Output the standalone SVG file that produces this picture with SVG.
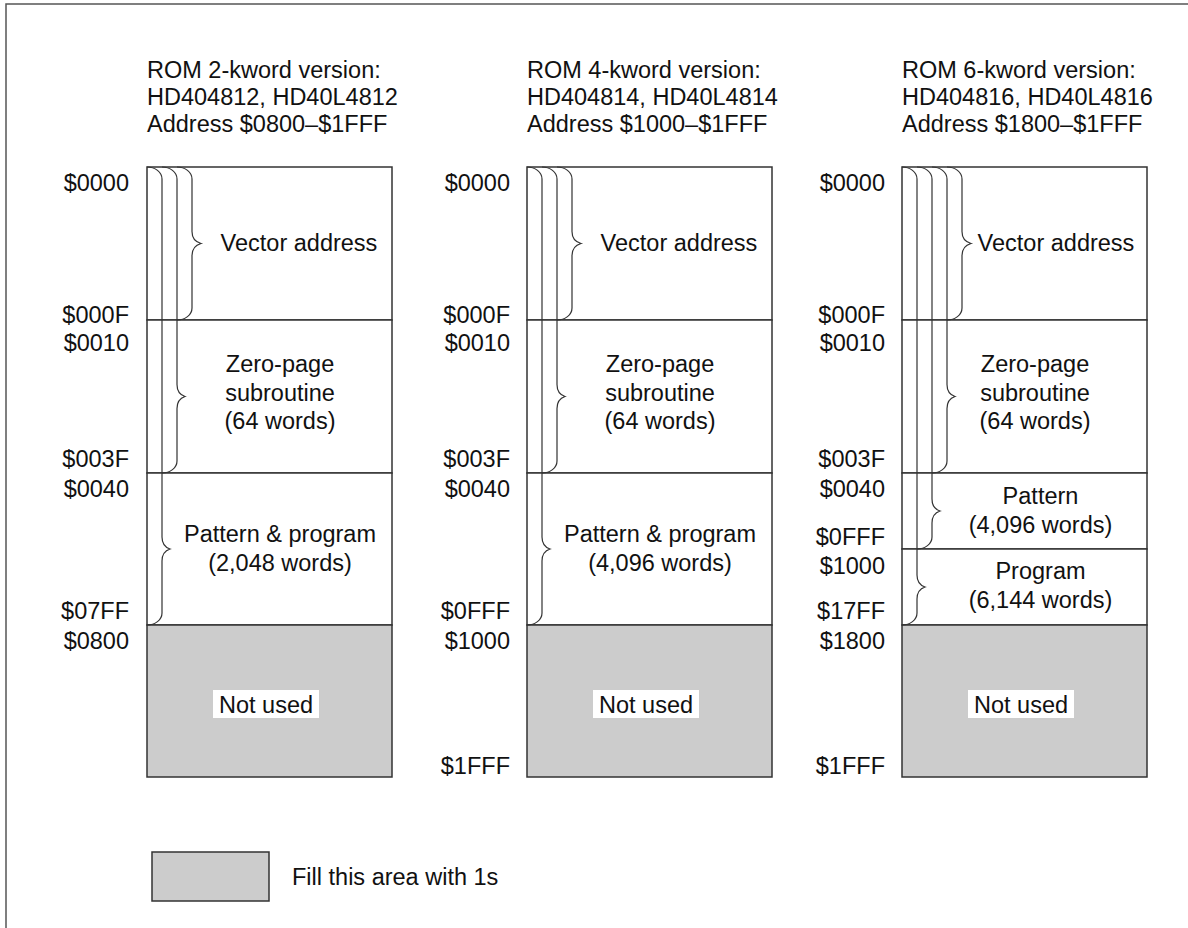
<svg xmlns="http://www.w3.org/2000/svg" width="1188" height="928" viewBox="0 0 1188 928">
<style>
.t{font-family:"Liberation Sans",Arial,Helvetica,sans-serif;font-size:23.5px;fill:#111}
.m{text-anchor:middle}
.r{text-anchor:end}
.box{fill:#fff;stroke:#333;stroke-width:1.5}
.gray{fill:#ccc;stroke:#333;stroke-width:1.5}
.bg{fill:#fff;stroke:none}
.br{fill:none;stroke:#333;stroke-width:1.2}
.frame{fill:none;stroke:#555;stroke-width:1.5}
</style>
<rect width="1188" height="928" fill="#fff"/>
<path class="frame" d="M6,930 L6,4 L1190,4"/>

<!-- Column 1 -->
<g id="col1">
  <g id="col1-title">
    <text class="t" x="147" y="77.5">ROM 2-kword version:</text>
    <text class="t" x="147" y="104.5">HD404812, HD40L4812</text>
    <text class="t" x="147" y="131.5">Address $0800–$1FFF</text>
  </g>
  <g id="col1-vector"><rect class="box" x="147" y="167" width="245" height="153"/><text class="t m" x="299" y="251">Vector address</text></g>
  <g id="col1-zero"><rect class="box" x="147" y="320" width="245" height="153"/>
    <text class="t m" x="280" y="372">Zero-page</text><text class="t m" x="280" y="400.5">subroutine</text><text class="t m" x="280" y="429">(64 words)</text></g>
  <g id="col1-pattern"><rect class="box" x="147" y="473" width="245" height="152"/>
    <text class="t m" x="280" y="542">Pattern &amp; program</text><text class="t m" x="280" y="571">(2,048 words)</text></g>
  <g id="col1-unused"><rect class="gray" x="147" y="625" width="245" height="152"/>
    <rect class="bg" x="213" y="690" width="106" height="28"/><text class="t m" x="266" y="713">Not used</text></g>
  <g id="col1-labels">
    <text class="t r" x="129" y="190.5">$0000</text>
    <text class="t r" x="129" y="322.5">$000F</text>
    <text class="t r" x="129" y="351">$0010</text>
    <text class="t r" x="129" y="467">$003F</text>
    <text class="t r" x="129" y="497">$0040</text>
    <text class="t r" x="129" y="619">$07FF</text>
    <text class="t r" x="129" y="649">$0800</text>
  </g>
</g>

<!-- Column 2 -->
<g id="col2">
  <g id="col2-title">
    <text class="t" x="527" y="77.5">ROM 4-kword version:</text>
    <text class="t" x="527" y="104.5">HD404814, HD40L4814</text>
    <text class="t" x="527" y="131.5">Address $1000–$1FFF</text>
  </g>
  <g id="col2-vector"><rect class="box" x="527" y="167" width="245" height="153"/><text class="t m" x="679" y="251">Vector address</text></g>
  <g id="col2-zero"><rect class="box" x="527" y="320" width="245" height="153"/>
    <text class="t m" x="660" y="372">Zero-page</text><text class="t m" x="660" y="400.5">subroutine</text><text class="t m" x="660" y="429">(64 words)</text></g>
  <g id="col2-pattern"><rect class="box" x="527" y="473" width="245" height="152"/>
    <text class="t m" x="660" y="542">Pattern &amp; program</text><text class="t m" x="660" y="571">(4,096 words)</text></g>
  <g id="col2-unused"><rect class="gray" x="527" y="625" width="245" height="152"/>
    <rect class="bg" x="593" y="690" width="106" height="28"/><text class="t m" x="646" y="713">Not used</text></g>
  <g id="col2-labels">
    <text class="t r" x="510" y="190.5">$0000</text>
    <text class="t r" x="510" y="322.5">$000F</text>
    <text class="t r" x="510" y="351">$0010</text>
    <text class="t r" x="510" y="467">$003F</text>
    <text class="t r" x="510" y="497">$0040</text>
    <text class="t r" x="510" y="619">$0FFF</text>
    <text class="t r" x="510" y="649">$1000</text>
    <text class="t r" x="510" y="774">$1FFF</text>
  </g>
</g>

<!-- Column 3 -->
<g id="col3">
  <g id="col3-title">
    <text class="t" x="902" y="77.5">ROM 6-kword version:</text>
    <text class="t" x="902" y="104.5">HD404816, HD40L4816</text>
    <text class="t" x="902" y="131.5">Address $1800–$1FFF</text>
  </g>
  <g id="col3-vector"><rect class="box" x="902" y="167" width="245" height="153"/><text class="t m" x="1056" y="251">Vector address</text></g>
  <g id="col3-zero"><rect class="box" x="902" y="320" width="245" height="153"/>
    <text class="t m" x="1035" y="372">Zero-page</text><text class="t m" x="1035" y="400.5">subroutine</text><text class="t m" x="1035" y="429">(64 words)</text></g>
  <g id="col3-pattern"><rect class="box" x="902" y="473" width="245" height="76"/>
    <text class="t m" x="1040.5" y="504">Pattern</text><text class="t m" x="1040.5" y="533">(4,096 words)</text></g>
  <g id="col3-program"><rect class="box" x="902" y="549" width="245" height="76"/>
    <text class="t m" x="1040.5" y="579">Program</text><text class="t m" x="1040.5" y="608">(6,144 words)</text></g>
  <g id="col3-unused"><rect class="gray" x="902" y="625" width="245" height="152"/>
    <rect class="bg" x="968" y="690" width="106" height="28"/><text class="t m" x="1021" y="713">Not used</text></g>
  <g id="col3-labels">
    <text class="t r" x="885" y="190.5">$0000</text>
    <text class="t r" x="885" y="322.5">$000F</text>
    <text class="t r" x="885" y="351">$0010</text>
    <text class="t r" x="885" y="467">$003F</text>
    <text class="t r" x="885" y="497">$0040</text>
    <text class="t r" x="885" y="545">$0FFF</text>
    <text class="t r" x="885" y="574">$1000</text>
    <text class="t r" x="885" y="619">$17FF</text>
    <text class="t r" x="885" y="649">$1800</text>
    <text class="t r" x="885" y="774">$1FFF</text>
  </g>
</g>

<!-- Braces -->
<g id="braces">
  <!-- col1 -->
  <path class="br" d="M147,167 C155,167 162,172 162,179 L162,537 C162,543 164,547 170,549 C164,551 162,555 162,561 L162,613 C162,620 155,625 147,625"/>
  <path class="br" d="M162,167 C170,167 177,172 177,179 L177,384.5 C177,390.5 179,394.5 185,396.5 C179,398.5 177,402.5 177,408.5 L177,461 C177,468 170,473 162,473"/>
  <path class="br" d="M177,167 C185,167 192,172 192,179 L192,231.5 C192,237.5 194,241.5 201,243.5 C194,245.5 192,249.5 192,255.5 L192,308 C192,315 185,320 177,320"/>
  <!-- col2 -->
  <path class="br" d="M527,167 C535,167 542,172 542,179 L542,537 C542,543 544,547 550,549 C544,551 542,555 542,561 L542,613 C542,620 535,625 527,625"/>
  <path class="br" d="M542,167 C550,167 557,172 557,179 L557,384.5 C557,390.5 559,394.5 565,396.5 C559,398.5 557,402.5 557,408.5 L557,461 C557,468 550,473 542,473"/>
  <path class="br" d="M557,167 C565,167 572,172 572,179 L572,231.5 C572,237.5 574,241.5 581,243.5 C574,245.5 572,249.5 572,255.5 L572,308 C572,315 565,320 557,320"/>
  <!-- col3 -->
  <path class="br" d="M902,167 C910,167 917,172 917,179 L917,575 C917,581 919,585 925,587 C919,589 917,593 917,599 L917,613 C917,620 910,625 902,625"/>
  <path class="br" d="M917,167 C925,167 932,172 932,179 L932,499 C932,505 934,509 940,511 C934,513 932,517 932,523 L932,537 C932,544 925,549 917,549"/>
  <path class="br" d="M932,167 C940,167 947,172 947,179 L947,384.5 C947,390.5 949,394.5 955,396.5 C949,398.5 947,402.5 947,408.5 L947,461 C947,468 940,473 932,473"/>
  <path class="br" d="M947,167 C955,167 962,172 962,179 L962,231.5 C962,237.5 964,241.5 971,243.5 C964,245.5 962,249.5 962,255.5 L962,308 C962,315 955,320 947,320"/>
</g>

<!-- Legend -->
<g id="legend">
  <rect class="gray" x="152" y="852" width="117" height="49"/>
  <text class="t" x="292" y="885">Fill this area with 1s</text>
</g>
</svg>
